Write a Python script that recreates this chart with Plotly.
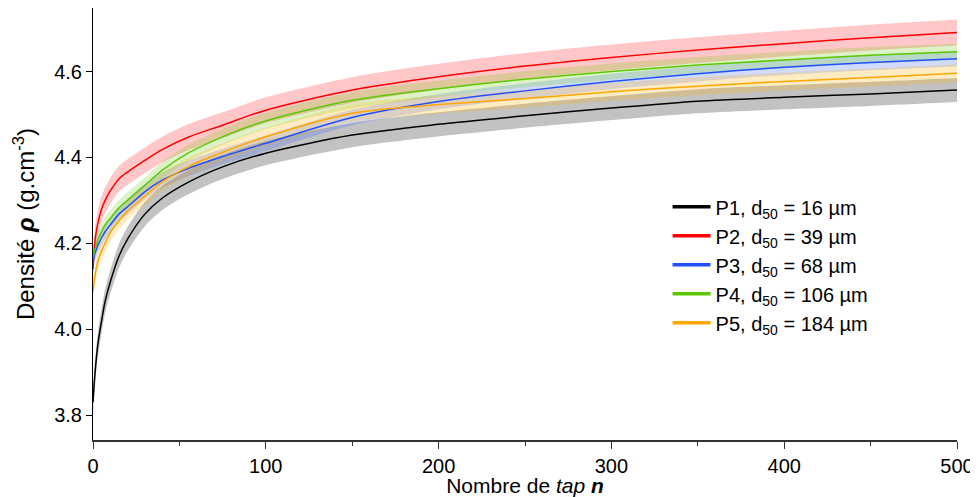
import plotly.graph_objects as go

# nombre de taps
n_taps = [0, 1, 2, 3, 5, 7, 10, 15, 20, 30, 40, 55, 75, 100, 150, 200, 250, 300, 350, 400, 450, 500]

# densité moyenne (g.cm-3)
p1_rho = [3.83, 3.89, 3.935, 3.97, 4.02, 4.065, 4.11, 4.17, 4.21, 4.268, 4.305, 4.342, 4.378, 4.41,
          4.452, 4.477, 4.497, 4.515, 4.531, 4.540, 4.548, 4.557]
p2_rho = [4.14, 4.20, 4.23, 4.25, 4.28, 4.30, 4.322, 4.35, 4.366, 4.393, 4.418, 4.447, 4.475, 4.51,
          4.557, 4.588, 4.613, 4.633, 4.650, 4.665, 4.679, 4.691]
p3_rho = [4.155, 4.175, 4.187, 4.197, 4.213, 4.227, 4.243, 4.268, 4.285, 4.32, 4.347, 4.374, 4.402, 4.433,
          4.493, 4.53, 4.555, 4.577, 4.595, 4.61, 4.621, 4.630]
p4_rho = [4.165, 4.185, 4.197, 4.21, 4.228, 4.243, 4.258, 4.282, 4.30, 4.335, 4.37, 4.41, 4.448, 4.485,
          4.533, 4.56, 4.582, 4.60, 4.615, 4.627, 4.638, 4.646]
p5_rho = [4.088, 4.12, 4.144, 4.16, 4.183, 4.20, 4.225, 4.252, 4.275, 4.31, 4.343, 4.378, 4.412, 4.448,
          4.503, 4.523, 4.537, 4.553, 4.566, 4.577, 4.586, 4.596]

# écart-type (demi-largeur de la bande)
p1_sd = 0.028
p2_sd = 0.030
p3_sd = 0.018
p4_sd = 0.019
p5_sd = 0.021

labels = [
    "P1, d<sub>50</sub> = 16 µm",
    "P2, d<sub>50</sub> = 39 µm",
    "P3, d<sub>50</sub> = 68 µm",
    "P4, d<sub>50</sub> = 106 µm",
    "P5, d<sub>50</sub> = 184 µm",
]

series = [
    (p1_rho, p1_sd, "#000000", "rgba(0,0,0,0.24)"),
    (p2_rho, p2_sd, "#ff0000", "rgba(255,0,0,0.22)"),
    (p3_rho, p3_sd, "#2150ff", "rgba(40,90,255,0.22)"),
    (p4_rho, p4_sd, "#5cc800", "rgba(100,200,0,0.22)"),
    (p5_rho, p5_sd, "#ffa500", "rgba(255,175,0,0.24)"),
]

spline = dict(shape="spline", smoothing=0.8)

fig = go.Figure()

# bandes
for rho, sd, col, band in series:
    fig.add_trace(go.Scatter(x=n_taps, y=[v - sd for v in rho], mode="lines",
                             line=dict(width=0, **spline),
                             showlegend=False, hoverinfo="skip"))
    fig.add_trace(go.Scatter(x=n_taps, y=[v + sd for v in rho], mode="lines",
                             line=dict(width=0, **spline),
                             fill="tonexty", fillcolor=band,
                             showlegend=False, hoverinfo="skip"))

# courbes moyennes
for (rho, sd, col, band), name in zip(series, labels):
    fig.add_trace(go.Scatter(x=n_taps, y=rho, mode="lines", name=name,
                             line=dict(color=col, width=1.5, **spline),
                             showlegend=False))

# entrées de légende (traits plus épais)
for (rho, sd, col, band), name in zip(series, labels):
    fig.add_trace(go.Scatter(x=[None], y=[None], mode="lines", name=name,
                             line=dict(color=col, width=3.5)))

font = dict(family="Liberation Sans, Arial, sans-serif", size=20, color="black")

# la page ajoute une marge de 8 px autour du graphique
fig.update_layout(
    width=970, height=489,
    margin=dict(l=85, r=21, t=0, b=57),
    paper_bgcolor="white", plot_bgcolor="white",
    font=font,
    showlegend=True,
    legend=dict(x=0.665, y=0.585, xanchor="left", yanchor="top", traceorder="normal",
                itemwidth=38, bgcolor="rgba(0,0,0,0)", font=dict(size=20), tracegroupgap=0),
    xaxis=dict(
        range=[0, 500], dtick=100, ticks="outside", ticklen=7, tickcolor="#333",
        showline=True, linecolor="#333", linewidth=2, showgrid=False, zeroline=False,
        minor=dict(dtick=50, ticks="outside", ticklen=4, tickcolor="#333"),
        tickfont=dict(size=20), automargin=False, ticklabeloverflow="allow",
        title=dict(text="Nombre de <i>tap</i> <b><i>n</i></b>", standoff=0, font=dict(size=21)),
    ),
    yaxis=dict(
        range=[3.742, 4.748], tickvals=[3.8, 4.0, 4.2, 4.4, 4.6], tickformat=".1f",
        ticks="outside", ticklen=6, tickcolor="black",
        showline=True, linecolor="black", linewidth=1, showgrid=False, zeroline=False,
        automargin=False,
        title=dict(text="Densité <b><i>ρ</i></b> (g.cm<sup>-3</sup>)", standoff=12),
    ),
)

fig.write_html("out.html")
